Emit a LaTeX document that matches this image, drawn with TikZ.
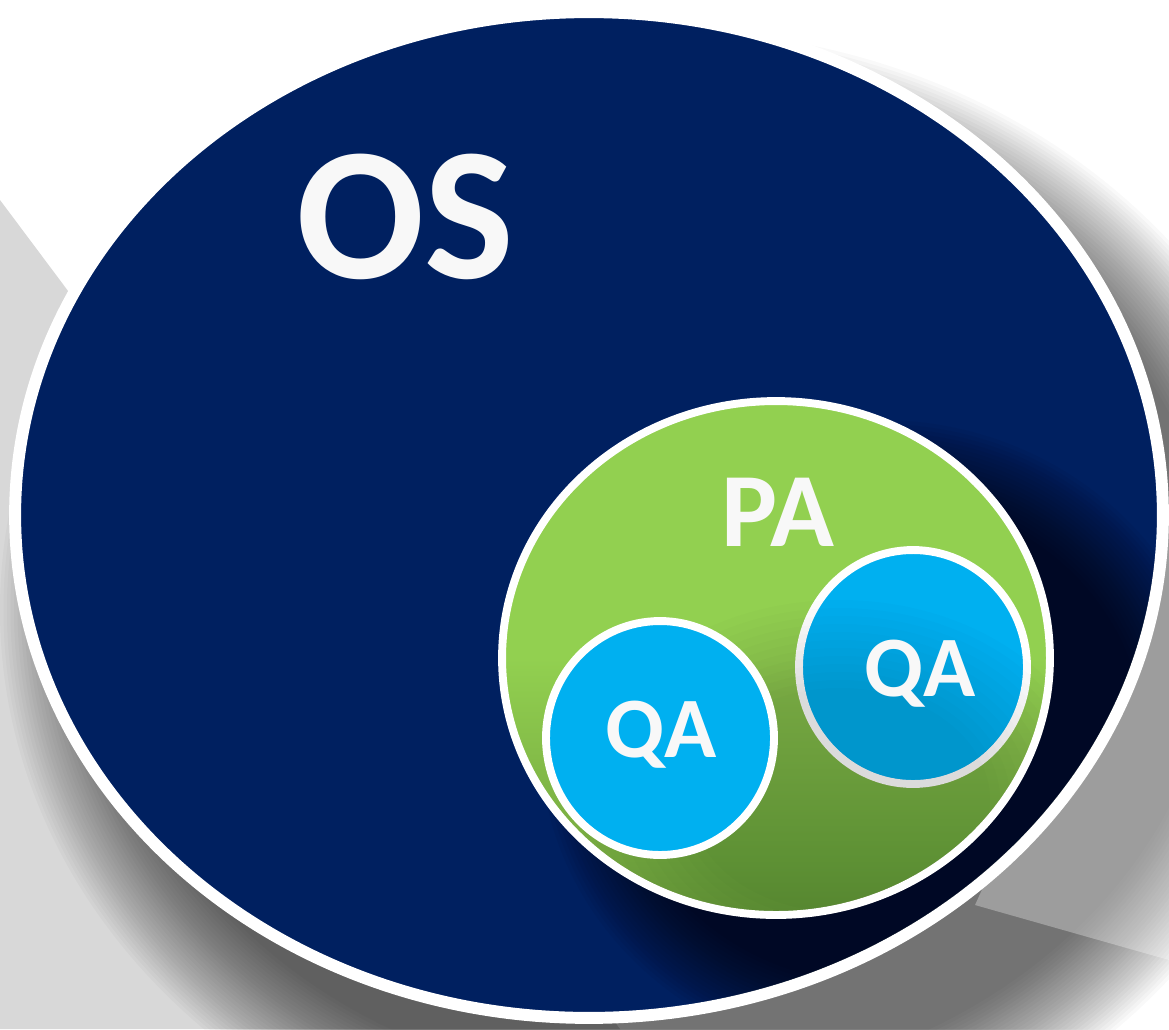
\documentclass[tikz,border=0pt]{standalone}
\usepackage{fontspec}
\setmainfont{Carlito}
\usetikzlibrary{shapes.geometric}
\definecolor{navy}{HTML}{002060}
\definecolor{lgreen}{HTML}{92D050}
\definecolor{dgreen}{HTML}{6E9E3C}
\definecolor{qblue}{HTML}{00B0F0}
\definecolor{txt}{HTML}{F8F8F8}
\definecolor{bggray}{HTML}{D8D8D8}
\begin{document}
\begin{tikzpicture}[x=0.02cm,y=-0.02cm,
  blob/.style={ellipse, inner sep=0pt, outer sep=0pt, draw=white},
  lbl/.style={text=txt, font=\bfseries, inner sep=0pt, anchor=base}]
\useasboundingbox (0,0) rectangle (1169,1029);
\fill[white] (0,0) rectangle (1169,1029);
% background shadow
\fill[bggray] (0,200) -- (620,1029) -- (0,1029) -- cycle;
\foreach \i in {0,...,29} {
  \fill[black, opacity=0.024] (660,610) ellipse ({660-3.5*\i} and {580-3.5*\i});
}
\fill[white, opacity=0.3] (975,905) -- (1169,960) -- (1169,520) -- (1100,700) -- (1000,850) -- cycle;
% OS
\node[blob, fill=navy, line width=6.8pt, minimum width=22.96cm, minimum height=20.12cm] (os) at (589,515) {};
\begin{scope}
  \clip (589,515) ellipse (568 and 497);
  \foreach \i in {0,...,19} {
    \fill[black, opacity=0.038] (880,740) ellipse ({340-4*\i} and {320-4*\i});
  }
\end{scope}
% PA
\node[blob, line width=4.5pt, top color=lgreen, bottom color=dgreen, middle color=lgreen, minimum width=10.96cm, minimum height=10.28cm] (pa) at (776,658) {};
% QA right
\node[blob, fill=qblue, line width=4.5pt, minimum width=4.56cm, minimum height=4.68cm] (qa2) at (913,667) {};
\begin{scope}
  \clip (776,658) ellipse (270 and 253);
  \foreach \i in {0,...,11} {
    \fill[black, opacity=0.011] (840,800) ellipse ({260-10*\i} and {200-8*\i});
  }
\end{scope}
% QA left
\node[blob, fill=qblue, line width=4.5pt, minimum width=4.56cm, minimum height=4.68cm] (qa1) at (660,738) {};
% labels
\node[lbl, font=\bfseries\fontsize{108}{108}\selectfont] (tos) at (405,278) {OS};
\node[lbl, font=\bfseries\fontsize{60}{60}\selectfont] (tpa) at (778,546) {PA};
\node[lbl, font=\bfseries\fontsize{49}{49}\selectfont] (tqa1) at (661,757) {QA};
\node[lbl, font=\bfseries\fontsize{49}{49}\selectfont] (tqa2) at (920,696) {QA};
\end{tikzpicture}
\end{document}
